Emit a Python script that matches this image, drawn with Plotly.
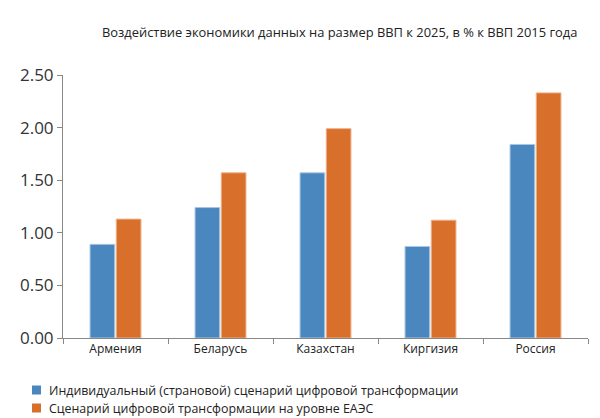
import plotly.graph_objects as go

countries = ["Армения", "Беларусь", "Казахстан", "Киргизия", "Россия"]
individual = [0.89, 1.24, 1.57, 0.87, 1.84]
eaeu = [1.13, 1.57, 1.99, 1.12, 2.33]
series_names = [
    "Индивидуальный (страновой) сценарий цифровой трансформации",
    "Сценарий цифровой трансформации на уровне ЕАЭС",
]
series_colors = ["#4a87bf", "#d86f2a"]
edge_colors = ["#a9c6e3", "#eeb08a"]
title_text = "Воздействие экономики данных на размер ВВП к 2025, в % к ВВП 2015 года"

W, H = 600, 418
L, R, T, B = 63, 12, 75, 80
pw, ph = W - L - R, H - T - B


def px_x(x):
    return (x - L) / pw


def px_y(y):
    return (H - B - y) / ph


fig = go.Figure()
for vals, name, col, edge in zip([individual, eaeu], series_names, series_colors, edge_colors):
    fig.add_trace(go.Bar(x=countries, y=vals, name=name, showlegend=False,
                         marker=dict(color=col, line=dict(color=edge, width=1))))

# manual legend (keeps the plot area fixed)
shapes, annotations = [], []
for i, (name, col) in enumerate(zip(series_names, series_colors)):
    cy = 390 + i * 18
    shapes.append(dict(type="rect", xref="paper", yref="paper",
                       x0=px_x(32), x1=px_x(41), y0=px_y(cy - 4.5), y1=px_y(cy + 4.5),
                       fillcolor=col, line=dict(width=0)))
    annotations.append(dict(text=name, xref="paper", yref="paper", x=px_x(47), y=px_y(cy),
                            xanchor="left", yanchor="middle", showarrow=False,
                            font=dict(size=12.4, color="#222222")))
annotations.append(dict(text=title_text, xref="paper", yref="paper", x=px_x(579), y=px_y(32),
                        xanchor="right", yanchor="middle", showarrow=False,
                        font=dict(size=12.9, color="#222222")))

fig.update_layout(
    width=W, height=H,
    margin=dict(l=L, r=R, t=T, b=B),
    paper_bgcolor="white", plot_bgcolor="white",
    font=dict(family="Open Sans, Lato, sans-serif", color="#333333"),
    barmode="group", bargap=0.5, bargroupgap=0.06,
    showlegend=False,
    shapes=shapes, annotations=annotations,
)
fig.update_xaxes(showline=True, linecolor="#888888", linewidth=1, automargin=False,
                 ticks="outside", tickson="boundaries", ticklen=5, tickcolor="#888888",
                 tickfont=dict(size=12, color="#222222"), showgrid=False, tickangle=0)
fig.update_yaxes(range=[0, 2.5], dtick=0.5, tickformat=".2f", automargin=False,
                 showline=True, linecolor="#888888", linewidth=1,
                 ticks="outside", ticklen=5, tickcolor="#888888",
                 tickfont=dict(size=17, color="#333333"), showgrid=False, zeroline=False)

fig.write_html("out.html", config={"displayModeBar": False},
               post_script="document.body.style.margin='0';")
